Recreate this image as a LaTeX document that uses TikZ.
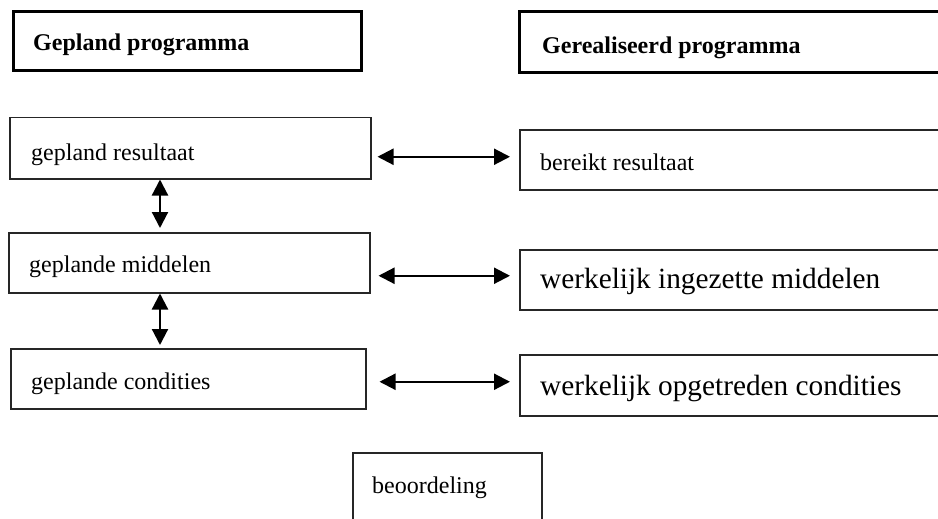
\documentclass[tikz,border=0pt]{standalone}
\usepackage{fontspec}
\setmainfont{Liberation Serif}
\usetikzlibrary{arrows.meta}
\begin{document}
\begin{tikzpicture}[x=1pt,y=-1pt,
  hdrbox/.style={draw=black,line width=3pt,rectangle,anchor=north west,inner sep=0pt},
  plainbox/.style={draw=black!85,line width=1.5pt,rectangle,anchor=north west,inner sep=0pt},
  txt/.style={anchor=base west,inner sep=0pt,font=\fontsize{24}{28}\selectfont},
  bigtxt/.style={anchor=base west,inner sep=0pt,font=\fontsize{29.3}{34}\selectfont},
  hdrtxt/.style={anchor=base west,inner sep=0pt,font=\fontsize{24}{28}\selectfont\bfseries},
  arr/.style={line width=2.2pt,{Triangle[length=16pt,width=16pt]}-{Triangle[length=16pt,width=16pt]}}]
\useasboundingbox (0,0) rectangle (938,519);
\clip (0,0) rectangle (938,519);
% headers
\node[hdrbox,minimum width=348,minimum height=59] (h1) at (12,10) {};
\node[hdrtxt] (h1t) at (33,51) {Gepland programma};
\node[hdrbox,minimum width=440,minimum height=61] (h2) at (518,10) {};
\node[hdrtxt] (h2t) at (542,54) {Gerealiseerd programma};
% left column
\node[plainbox,minimum width=361,minimum height=61] (r1) at (9,117) {};
\node[txt] (r1t) at (31,160) {gepland resultaat};
\node[plainbox,minimum width=361,minimum height=60] (m1) at (8,232) {};
\node[txt] (m1t) at (29,272) {geplande middelen};
\node[plainbox,minimum width=355,minimum height=60] (c1) at (10,348) {};
\node[txt] (c1t) at (31,389) {geplande condities};
% right column
\node[plainbox,minimum width=440,minimum height=60] (r2) at (519,129) {};
\node[txt] (r2t) at (540,170) {bereikt resultaat};
\node[plainbox,minimum width=440,minimum height=60] (m2) at (519,249) {};
\node[bigtxt] (m2t) at (540,288) {werkelijk ingezette middelen};
\node[plainbox,minimum width=440,minimum height=61] (c2) at (519,354) {};
\node[bigtxt] (c2t) at (540,395) {werkelijk opgetreden condities};
% beoordeling
\node[plainbox,minimum width=189,minimum height=90] (b) at (352,452) {};
\node[txt] (bt) at (372,493) {beoordeling};
% arrow end points
\coordinate (e1) at ([xshift=-9,yshift=3]r2.west);
\coordinate (e2) at ([xshift=-9,yshift=4]m2.west);
\coordinate (e3) at ([xshift=-9,yshift=3.5]c2.west);
% arrows
\draw[arr] ([xshift=6]r1.east |- e1) -- (e1);
\draw[arr] ([xshift=8]m1.east |- e2) -- (e2);
\draw[arr] ([xshift=13]c1.east |- e3) -- (e3);
\draw[arr] ([xshift=151]r1.south west) -- ([xshift=152,yshift=4]m1.north west);
\draw[arr] ([xshift=152]m1.south west) -- ([xshift=150,yshift=3]c1.north west);
\end{tikzpicture}
\end{document}
